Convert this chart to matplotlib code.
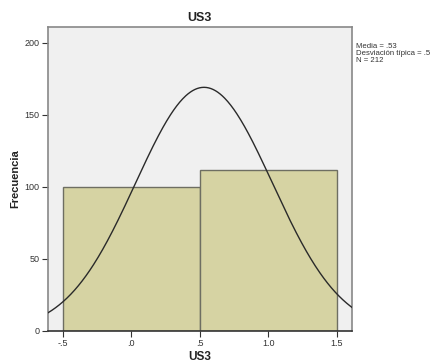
import numpy as np
import matplotlib
matplotlib.use("Agg")
import matplotlib.pyplot as plt

plt.rcParams["font.family"] = ["Liberation Sans", "DejaVu Sans"]

bin_edges = [-0.5, 0.5, 1.5]
counts = [100, 112]
mean = 0.53
std = 0.50
n = 212
xticks = [-0.5, 0.0, 0.5, 1.0, 1.5]
xticklabels = ["-.5", ".0", ".5", "1.0", "1.5"]
yticks = [0, 50, 100, 150, 200]

fig = plt.figure(figsize=(4.35, 3.64), dpi=100)
fig.patch.set_facecolor("white")
ax = fig.add_axes([0.110, 0.0907, 0.699, 0.835])
ax.set_facecolor("#f0f0f0")

widths = np.diff(bin_edges)
ax.bar(bin_edges[:-1], counts, width=widths, align="edge",
       color="#d6d3a3", edgecolor="#6e6e62", linewidth=1.0, zorder=2)

xs = np.linspace(-0.61, 1.61, 400)
bw = widths[0]
ys = n * bw / (std * np.sqrt(2 * np.pi)) * np.exp(-0.5 * ((xs - mean) / std) ** 2)
ax.plot(xs, ys, color="#2a2a2a", linewidth=1.0, zorder=3)

ax.set_xlim(-0.61, 1.61)
ax.set_ylim(0, 211)
ax.set_xticks(xticks)
ax.set_xticklabels(xticklabels)
ax.set_yticks(yticks)
ax.tick_params(axis="both", labelsize=6.5, colors="#333333", length=4, width=0.8, direction="out", pad=2)
ax.tick_params(top=False, right=False)
for s in ax.spines.values():
    s.set_color("#888888")
    s.set_linewidth(1.2)
ax.spines["bottom"].set_color("#333333")

ax.set_title("US3", fontsize=9, fontweight="bold", color="#222222", pad=4)
ax.set_xlabel("US3", fontsize=8.5, fontweight="bold", color="#222222")
ax.set_ylabel("Frecuencia", fontsize=8, fontweight="bold", color="#222222")
ax.xaxis.set_label_coords(0.5, -0.066)
ax.yaxis.set_label_coords(-0.09, 0.5)

fig.text(356 / 435, 1 - 43 / 364, "Media = .53\nDesviación típica = .5\nN = 212",
         fontsize=5.6, color="#333333", va="top", ha="left", linespacing=0.95)

fig.savefig("out.png", dpi=100, facecolor=fig.get_facecolor())
